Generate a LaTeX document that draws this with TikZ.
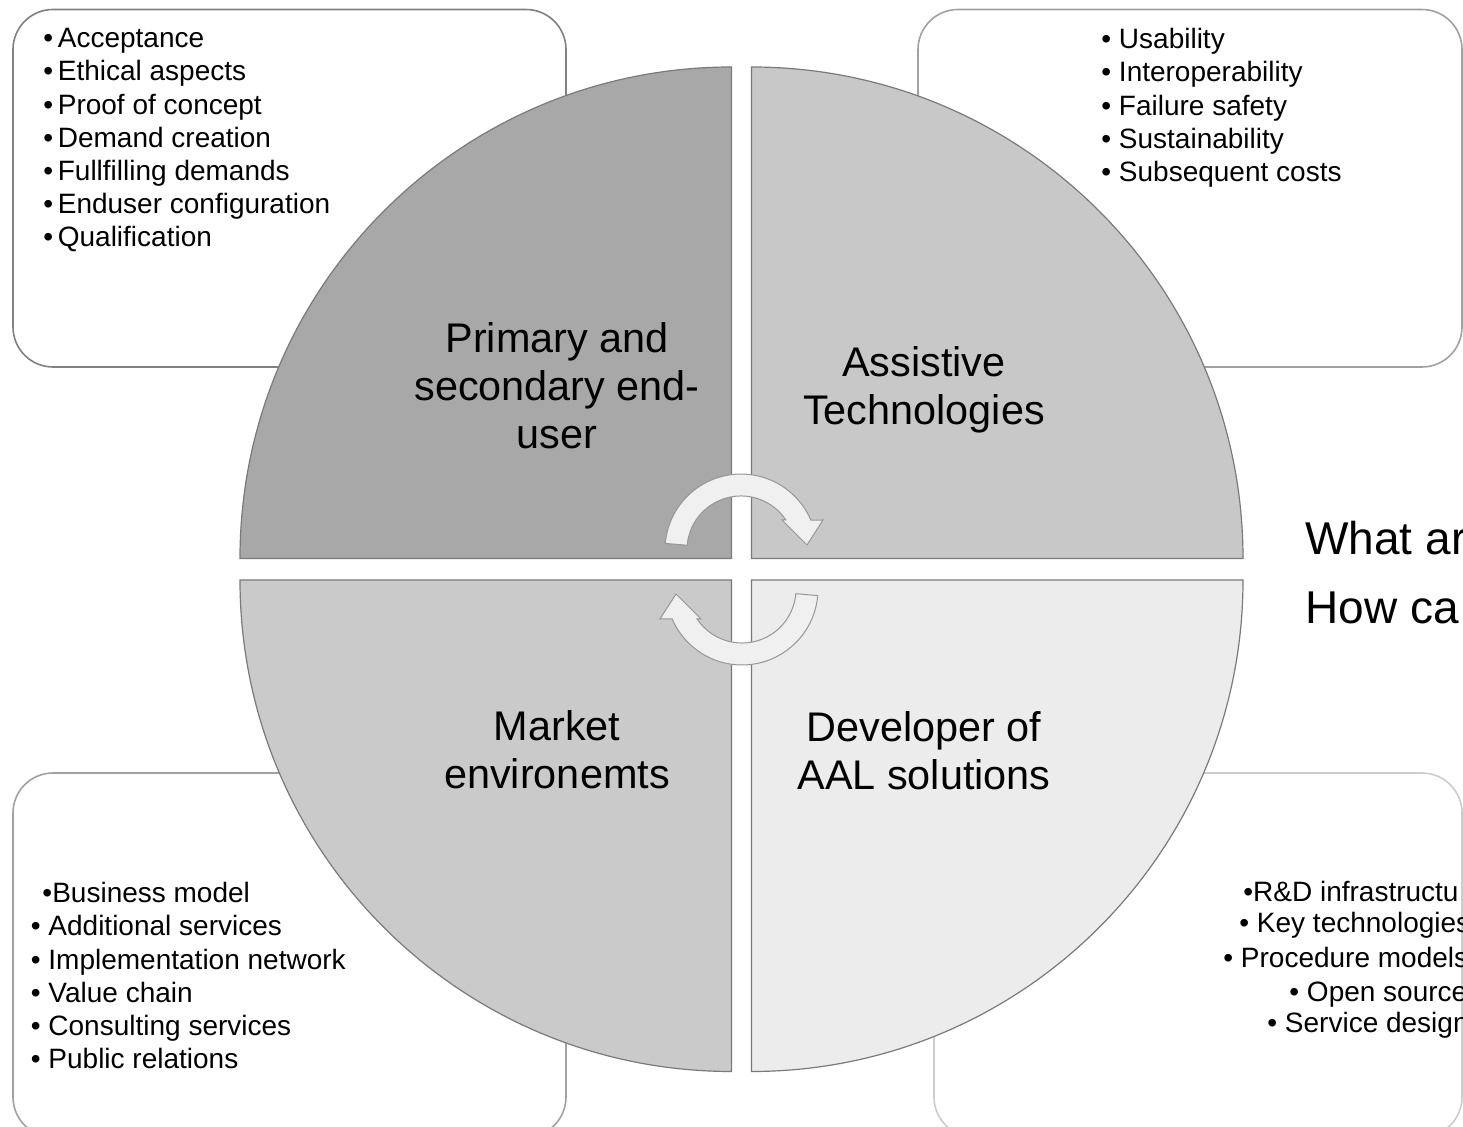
\documentclass[tikz,border=0pt]{standalone}
\usepackage{fontspec}
\setmainfont{Liberation Sans}

\definecolor{quadtl}{HTML}{A8A8A8}
\definecolor{quadtr}{HTML}{C8C8C8}
\definecolor{quadbl}{HTML}{CACACA}
\definecolor{quadbr}{HTML}{ECECEC}
\definecolor{quadline}{HTML}{7A7A7A}
\definecolor{arrowfill}{HTML}{F0F0F0}
\definecolor{arrowline}{HTML}{969696}

\tikzset{
  infobox/.style={rounded corners=20pt, line width=0.8pt, fill=white},
  quarter/.style={draw=quadline, line width=0.6pt},
  cyclearrow/.style={fill=arrowfill, draw=arrowline, line width=0.5pt},
  listtext/.style={inner sep=0pt, align=left, font=\fontsize{14}{16.6}\selectfont},
  quartlabel/.style={inner sep=0pt, align=center, font=\fontsize{20.7}{24}\selectfont},
  asktext/.style={inner sep=0pt, font=\fontsize{23}{28}\selectfont}
}

\begin{document}
\begin{tikzpicture}[x=0.5pt,y=-0.5pt]
		\useasboundingbox (0,0) rectangle (1463,1127);
		\clip (0,0) rectangle (1463,1127);
		
		% boxes behind the circle
		\draw[infobox, draw=black!50] (13,9.5) rectangle (566,367);
		\draw[infobox, draw=black!37] (918,9.5) rectangle (1462,367);
		\draw[infobox, draw=black!37] (13,773) rectangle (566,1137);
		\draw[infobox, draw=black!20] (934,773) rectangle (1462,1137);
		
		% four quarters
		\draw[quarter, fill=quadtl] (731.5,558.5) -- (240,558.5) arc[start angle=180, end angle=270, radius=491.5] -- cycle;
		\draw[quarter, fill=quadtr] (751.5,558.5) -- (751.5,67) arc[start angle=270, end angle=360, radius=491.5] -- cycle;
		\draw[quarter, fill=quadbl] (731.5,580) -- (731.5,1071.5) arc[start angle=90, end angle=180, radius=491.5] -- cycle;
		\draw[quarter, fill=quadbr] (751.5,580) -- (1243,580) arc[start angle=0, end angle=90, radius=491.5] -- cycle;
		
		% circular arrows
		\draw[cyclearrow] (665.3,543.4) arc[start angle=185, end angle=336.8, radius=76] -- (823,520) -- (807,545) -- (782,520) -- (785.9,520) arc[start angle=326.3, end angle=185, radius=54] -- cycle;
		\begin{scope}[rotate around={180:(741.5,569.5)}]
			\draw[cyclearrow] (665.3,543.4) arc[start angle=185, end angle=336.8, radius=76] -- (823,520) -- (807,545) -- (782,520) -- (785.9,520) arc[start angle=326.3, end angle=185, radius=54] -- cycle;
		\end{scope}
		
		% base = last line
		\node[quartlabel, anchor=base] (enduser) at (557,449) {Primary and\\secondary end-\\user};
		\node[quartlabel, anchor=base] (assistive) at (924,425) {Assistive\\Technologies};
		\node[quartlabel, anchor=base] (market) at (557,789) {Market\\environemts};
		\node[quartlabel, anchor=base] (developer) at (924,790) {Developer of\\AAL solutions};
		
		\node[listtext, anchor=north west] (enduserlist) at (43,28) {•\,Acceptance\\•\,Ethical aspects\\•\,Proof of concept\\•\,Demand creation\\•\,Fullfilling demands\\•\,Enduser configuration\\•\,Qualification};
		\node[listtext, anchor=north west] (assistivelist) at (1101,28) {• Usability\\• Interoperability\\• Failure safety\\• Sustainability\\• Subsequent costs};
		\node[listtext, anchor=north west] (marketlist) at (30.5,882) {\hspace*{5.8pt}•Business model\\• Additional services\\• Implementation network\\• Value chain\\• Consulting services\\• Public relations};
		
		\node[listtext, anchor=base west] (dev1) at (1243,902) {•R\&D infrastructu};
		\node[listtext, anchor=base west] (dev2) at (1239,933) {• Key technologies};
		\node[listtext, anchor=base west] (dev3) at (1223,968) {• Procedure models};
		\node[listtext, anchor=base west] (dev4) at (1289,1002) {• Open source};
		\node[listtext, anchor=base west] (dev5) at (1267,1033) {• Service design};
		
		\node[asktext, anchor=base west] (whatq) at (1305,555) {What ar};
		\node[asktext, anchor=base west] (howq) at (1305,624) {How ca};
	\end{tikzpicture}
\end{document}
